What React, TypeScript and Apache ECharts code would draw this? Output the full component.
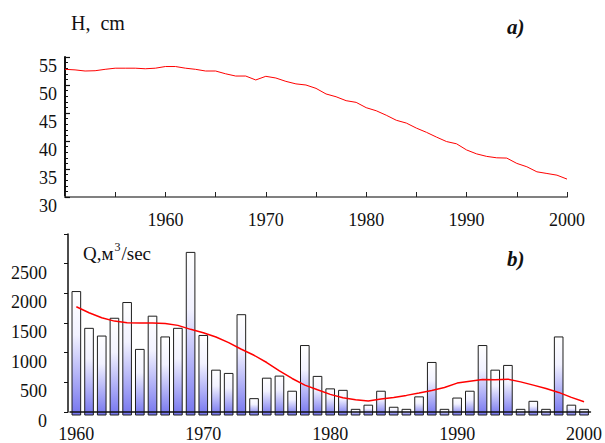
import React, { useEffect, useRef } from "react";
import * as echarts from "echarts";

const SERIF = "Liberation Serif";

// Panel a): water level H, cm, one value per year from 1950
const H_FIRST_YEAR = 1950;
const H_LEVEL_CM = [
  52.8, 52.7, 52.5, 52.55, 52.8, 53.0, 53.0, 53.0, 52.9, 53.0,
  53.3, 53.3, 53.0, 52.8, 52.5, 52.5, 52.0, 51.6, 51.6, 50.9,
  51.55, 51.25, 50.65, 50.2, 50.0, 49.4, 48.4, 47.9, 47.2, 46.9,
  45.95, 45.4, 44.6, 43.7, 43.2, 42.3, 41.55, 40.7, 39.9, 39.5,
  38.4, 37.7, 37.25, 37.0, 36.95, 36.0, 35.4, 34.5, 34.2, 33.9, 33.2,
];
const H_LABEL_YEARS = [1960, 1970, 1980, 1990, 2000];

// Panel b): annual discharge Q, m3/sec, from 1960, and its smoothed trend
const Q_FIRST_YEAR = 1960;
const Q_DISCHARGE = [
  2030, 1410, 1280, 1580, 1845, 1055, 1615, 1265, 1410, 2690,
  1290, 705, 650, 1640, 225, 570, 605, 350, 1120, 600,
  390, 365, 45, 115, 350, 80, 45, 255, 835, 45,
  235, 350, 1120, 705, 785, 45, 180, 45, 1265, 115, 45,
];
const Q_SMOOTHED = [
  1773, 1673, 1589, 1532, 1505, 1499, 1499, 1493, 1460, 1393,
  1337, 1264, 1169, 1057, 956, 834, 693, 565, 453, 374,
  297, 240, 206, 185, 218, 246, 280, 319, 364, 414,
  487, 520, 548, 542, 554, 508, 453, 397, 330, 246, 173,
];

export default function App() {
  const ref = useRef<HTMLDivElement>(null);

  useEffect(() => {
    if (!ref.current) return;
    const chart = echarts.init(ref.current, null, { renderer: "svg" });

    const hData = H_LEVEL_CM.map((v, i) => [H_FIRST_YEAR + i, v]);
    const qYears = Q_DISCHARGE.map((_, i) => String(Q_FIRST_YEAR + i));
    const qBars = Q_DISCHARGE.map((v, i) => [i, v]);

    const labelBase = { fontFamily: SERIF, fontSize: 18, color: "#111" };

    chart.setOption({
      animation: false,
      backgroundColor: "#ffffff",
      textStyle: { fontFamily: SERIF },
      grid: [
        { left: 65, right: 38, top: 57, height: 140 },
        { left: 70, right: 9, top: 234, bottom: 31 },
      ],
      xAxis: [
        {
          type: "value",
          gridIndex: 0,
          min: 1950,
          max: 2000,
          interval: 5,
          axisLine: { lineStyle: { color: "#808080", width: 2 } },
          axisTick: { inside: true, length: 5, lineStyle: { color: "#222", width: 1 } },
          axisLabel: {
            ...labelBase,
            margin: 14,
            formatter: (v: number) => (H_LABEL_YEARS.includes(v) ? String(v) : ""),
          },
          splitLine: { show: false },
        },
        {
          type: "category",
          gridIndex: 1,
          data: qYears,
          boundaryGap: true,
          z: 3,
          axisLine: { onZero: false, lineStyle: { color: "#111", width: 1.5 } },
          axisTick: { show: false },
          axisLabel: { ...labelBase, interval: 9, margin: 13 },
          splitLine: { show: false },
        },
      ],
      yAxis: [
        {
          type: "value",
          gridIndex: 0,
          min: 30,
          max: 55,
          interval: 5,
          axisLine: { show: true, lineStyle: { color: "#111", width: 2 } },
          axisTick: { show: true, inside: true, length: 5, lineStyle: { color: "#111", width: 1.2 } },
          minorTick: { show: true, splitNumber: 5, length: 3, lineStyle: { color: "#111", width: 1 } },
          axisLabel: { ...labelBase, margin: 8, verticalAlign: "top" },
          splitLine: { show: false },
        },
        {
          type: "value",
          gridIndex: 1,
          min: 0,
          max: 3000,
          interval: 500,
          offset: 2,
          axisLine: { show: true, lineStyle: { color: "#111", width: 1.5 } },
          axisTick: { show: true, length: 4, lineStyle: { color: "#111" } },
          axisLabel: {
            ...labelBase,
            margin: 21,
            verticalAlign: "top",
            formatter: (v: number) => (v === 3000 ? "" : String(v)),
          },
          splitLine: { show: false },
        },
      ],
      series: [
        {
          type: "line",
          xAxisIndex: 0,
          yAxisIndex: 0,
          data: hData,
          showSymbol: false,
          lineStyle: { color: "#ff0000", width: 1 },
          z: 3,
        },
        {
          type: "custom",
          xAxisIndex: 1,
          yAxisIndex: 1,
          data: qBars,
          encode: { x: 0, y: 1 },
          clip: false,
          z: 2,
          renderItem: (params: any, api: any) => {
            const idx = api.value(0);
            const val = api.value(1);
            const top = api.coord([idx, val]);
            const base = api.coord([idx, 0]);
            const w = api.size([1, 0])[0] * 0.68;
            return {
              type: "rect",
              shape: {
                x: top[0] - w / 2,
                y: top[1],
                width: w,
                height: base[1] - top[1] + 3,
              },
              style: {
                fill: new echarts.graphic.LinearGradient(0, 0, 0, 1, [
                  { offset: 0, color: "#ffffff" },
                  { offset: 0.35, color: "#f2f2ff" },
                  { offset: 1, color: "#7575ef" },
                ]),
                stroke: "#1e1e1e",
                lineWidth: 1,
              },
            };
          },
        },
        {
          type: "line",
          xAxisIndex: 1,
          yAxisIndex: 1,
          data: Q_SMOOTHED,
          showSymbol: false,
          lineStyle: { color: "#ff0000", width: 1.5 },
          z: 4,
        },
      ],
      graphic: [
        {
          type: "text",
          x: 71,
          y: 23,
          style: { text: "H,  cm", fontFamily: SERIF, fontSize: 20, fill: "#111", verticalAlign: "middle" },
        },
        {
          type: "text",
          x: 507,
          y: 27,
          style: { text: "a)", fontFamily: SERIF, fontSize: 21, fontWeight: "bold", fontStyle: "italic", fill: "#111", verticalAlign: "middle" },
        },
        {
          type: "text",
          x: 83,
          y: 252,
          style: {
            text: "{b|Q,м}{s|3}{b|/sec}",
            verticalAlign: "middle",
            rich: {
              b: { fontFamily: SERIF, fontSize: 19, fill: "#111", lineHeight: 22, verticalAlign: "bottom" },
              s: { fontFamily: SERIF, fontSize: 12, fill: "#111", lineHeight: 22, verticalAlign: "top", padding: [0, 1, 0, 1] },
            },
          },
        },
        {
          type: "text",
          x: 507,
          y: 259,
          style: { text: "b)", fontFamily: SERIF, fontSize: 21, fontWeight: "bold", fontStyle: "italic", fill: "#111", verticalAlign: "middle" },
        },
      ],
    });

    return () => chart.dispose();
  }, []);

  return (
    <div
      ref={ref}
      style={{ position: "fixed", left: 0, top: 0, width: 605, height: 443, background: "#fff" }}
    />
  );
}
